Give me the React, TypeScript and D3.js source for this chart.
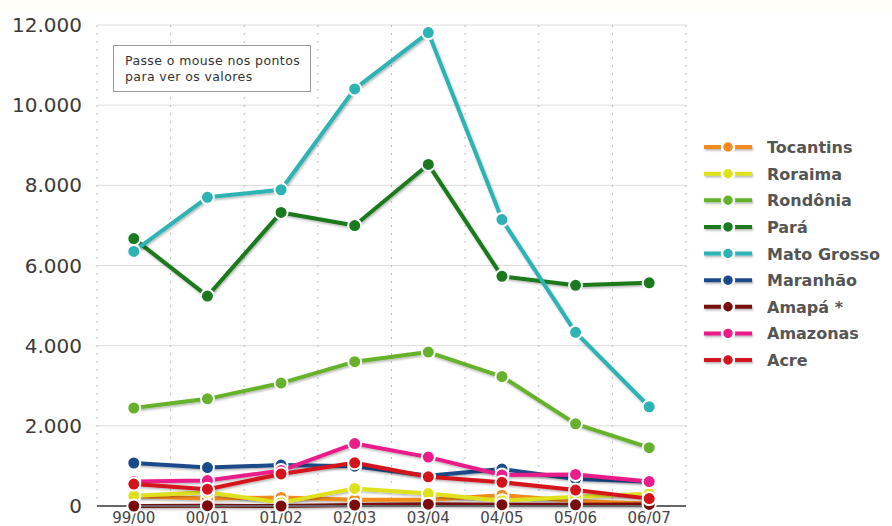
import React from "react";
import * as d3 from "d3";

const categories = ["99/00", "00/01", "01/02", "02/03", "03/04", "04/05", "05/06", "06/07"];
const yTicks = [0, 2000, 4000, 6000, 8000, 10000, 12000];

const seriesNames = ["Tocantins", "Roraima", "Rondônia", "Pará", "Mato Grosso", "Maranhão", "Amapá *", "Amazonas", "Acre"];
const seriesColors = ["#f28a1e", "#dfe11c", "#66b22c", "#1a7a1f", "#2db3b5", "#1a4a8a", "#7a0c0c", "#ea1d8a", "#d4141c"];

const tocantins = [244, 189, 212, 156, 158, 271, 124, 63];
const roraima = [253, 345, 84, 439, 311, 133, 231, 306];
const rondonia = [2445, 2673, 3067, 3600, 3840, 3230, 2049, 1455];
const para = [6671, 5237, 7324, 6996, 8521, 5731, 5505, 5569];
const matoGrosso = [6350, 7700, 7890, 10405, 11810, 7145, 4333, 2476];
const maranhao = [1073, 958, 1020, 993, 755, 922, 674, 613];
const amapa = [0, 7, 0, 25, 46, 33, 30, 39];
const amazonas = [612, 634, 885, 1558, 1220, 775, 788, 610];
const acre = [547, 419, 800, 1078, 728, 592, 398, 184];

const seriesValues = [tocantins, roraima, rondonia, para, matoGrosso, maranhao, amapa, amazonas, acre];

const W = 892;
const H = 526;

export default function App() {
  const x = d3.scaleBand<string>().domain(categories).range([97, 686]).padding(0);
  const cx = (c: string) => (x(c) as number) + x.bandwidth() / 2;
  const y = d3.scaleLinear().domain([0, 12000]).range([506, 25]);
  const fmt = (v: number) => d3.format(",")(v).replace(/,/g, ".");
  const line = d3
    .line<number>()
    .x((_, i) => cx(categories[i]))
    .y((d) => y(d));

  const bounds = [...categories.map((c) => x(c) as number), 686];
  const legendY = d3.scalePoint<string>().domain(seriesNames).range([147, 360]);

  return (
    <div style={{ position: "absolute", left: 0, top: 0 }}>
      <svg width={W} height={H} style={{ display: "block", background: "#fff" }}>
        <defs>
          <filter id="sh" filterUnits="userSpaceOnUse" x={0} y={0} width={W} height={H}>
            <feDropShadow dx="1" dy="1.5" stdDeviation="1" floodColor="#000" floodOpacity="0.3" />
          </filter>
        </defs>
        <rect x={0} y={0} width={W} height={12} fill="#fffef8" />
        {/* horizontal grid */}
        {yTicks.map((t) => (
          <line key={"h" + t} x1={97} x2={686} y1={y(t)} y2={y(t)} stroke="#dcdcdc" strokeWidth={1} />
        ))}
        {/* vertical dotted grid */}
        {bounds.map((b, i) => (
          <line key={"v" + i} x1={b} x2={b} y1={y(12000)} y2={y(0)} stroke="#bbb" strokeWidth={1} strokeDasharray="2,6" />
        ))}
        {/* y labels */}
        {yTicks.map((t) => (
          <text key={"yl" + t} x={82} y={y(t) + 7} textAnchor="end" fontFamily="DejaVu Sans, Verdana, sans-serif" fontSize={20} fill="#3a3a3a">
            {fmt(t)}
          </text>
        ))}
        {/* x labels */}
        {categories.map((c) => (
          <text key={"xl" + c} x={cx(c)} y={523} textAnchor="middle" fontFamily="DejaVu Sans, Verdana, sans-serif" fontSize={15} fill="#444">
            {c}
          </text>
        ))}
        {/* tooltip hint box */}
        <rect x={113.5} y={45.5} width={197} height={46} fill="#fff" stroke="#999" strokeWidth={1} />
        <text x={125} y={65} fontFamily="DejaVu Sans, Verdana, sans-serif" fontSize={12.5} letterSpacing={0.4} fill="#333">
          Passe o mouse nos pontos
        </text>
        <text x={125} y={81} fontFamily="DejaVu Sans, Verdana, sans-serif" fontSize={12.5} letterSpacing={0.4} fill="#333">
          para ver os valores
        </text>
        {/* series lines */}
        {seriesValues.map((vals, si) => (
          <path key={"l" + si} d={line(vals) as string} fill="none" stroke={seriesColors[si]} strokeWidth={4} strokeLinejoin="round" filter="url(#sh)" />
        ))}
        {/* axis line */}
        <line x1={97} x2={686} y1={y(0)} y2={y(0)} stroke="#666" strokeWidth={2} />
        {/* markers */}
        {seriesValues.map((vals, si) =>
          vals.map((v, i) => (
            <circle key={"c" + si + "-" + i} cx={cx(categories[i])} cy={y(v)} r={6.5} fill={seriesColors[si]} stroke="#fff" strokeWidth={2} />
          ))
        )}
        {/* legend */}
        {seriesNames.map((n, i) => {
          const ly = legendY(n) as number;
          return (
            <g key={"lg" + n}>
              <line x1={704} x2={752} y1={ly} y2={ly} stroke={seriesColors[i]} strokeWidth={4} filter="url(#sh)" />
              <circle cx={728} cy={ly} r={6} fill={seriesColors[i]} stroke="#fff" strokeWidth={2.5} />
              <text x={767} y={ly + 6} fontFamily="DejaVu Sans, Verdana, sans-serif" fontWeight="bold" fontSize={16} fill="#555">
                {n}
              </text>
            </g>
          );
        })}
      </svg>
    </div>
  );
}
